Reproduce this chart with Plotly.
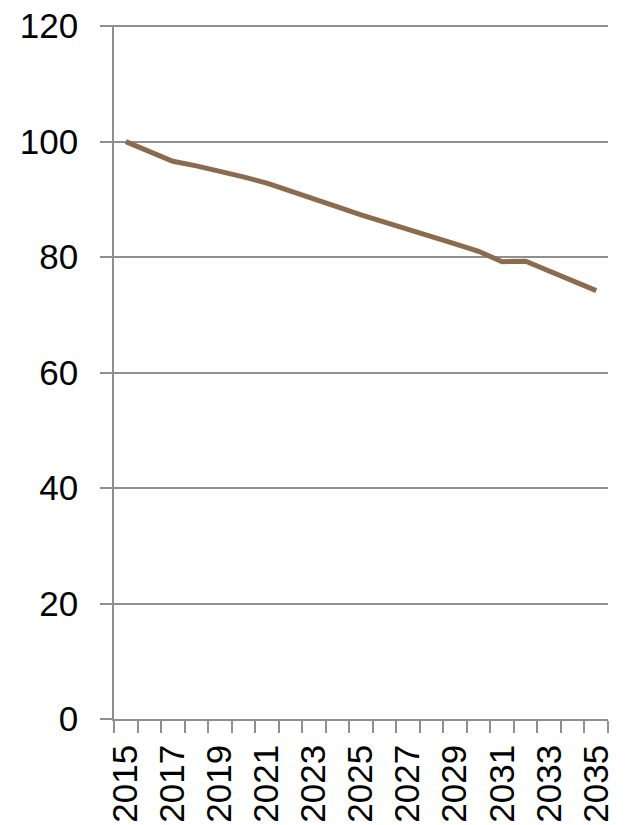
import plotly.graph_objects as go

years = list(range(2015, 2036))
values = [100.0, 98.3, 96.6, 95.8, 94.9, 93.9, 92.8, 91.5, 90.1, 88.7, 87.3,
          86.1, 84.9, 83.6, 82.3, 81.0, 79.2, 79.3, 77.6, 75.9, 74.2]
x_labels = list(range(2015, 2036, 2))
y_ticks = [0, 20, 40, 60, 80, 100, 120]

grid = "#8f8f8f"
font = dict(family="Liberation Sans, Arial, sans-serif", size=35, color="#000000")

fig = go.Figure()
fig.add_trace(go.Scatter(
    x=years, y=values, mode="lines",
    line=dict(color="#8b6a4e", width=5),
    showlegend=False, hoverinfo="skip",
))

# page body has an 8px margin, so the figure is sized 617x817
fig.update_layout(
    width=617, height=817,
    margin=dict(l=106, r=17, t=17, b=106, autoexpand=False),
    paper_bgcolor="white", plot_bgcolor="white",
    font=font,
)
fig.update_xaxes(
    range=[2014.5, 2035.5],
    tickmode="array", tickvals=x_labels, ticktext=[str(v) for v in x_labels],
    tickangle=-90, ticks="", showgrid=False, zeroline=False,
    showline=True, linecolor=grid, linewidth=1.5,
    minor=dict(ticks="outside", tickmode="linear", tick0=2014.5, dtick=1,
               ticklen=12, tickcolor=grid, tickwidth=1.5, showgrid=False),
    ticklabelstandoff=10, ticklabeloverflow="allow",
    tickfont=font, automargin=False,
)
fig.update_yaxes(
    range=[0, 120.2], tickmode="array", tickvals=y_ticks,
    ticks="outside", ticklen=12, tickcolor=grid, tickwidth=1.5,
    showgrid=True, gridcolor=grid, gridwidth=1.5,
    showline=True, linecolor=grid, linewidth=1.5, zeroline=False,
    ticklabelstandoff=15, ticklabeloverflow="allow",
    tickfont=font, automargin=False,
)

fig.write_html("out.html")
